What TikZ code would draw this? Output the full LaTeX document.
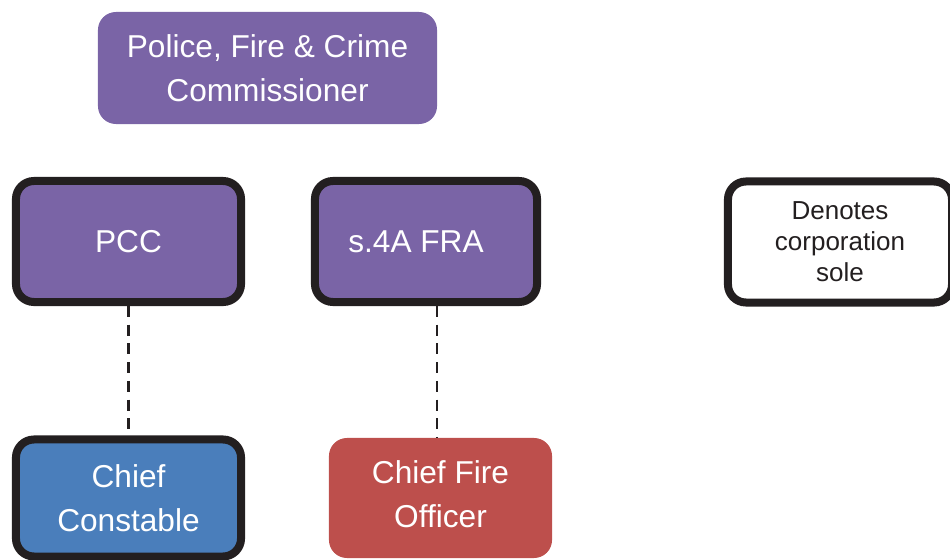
\documentclass[tikz,border=0pt]{standalone}
\usepackage{fontspec}
\setmainfont{Liberation Sans}

\definecolor{pfccpurple}{HTML}{7A64A6}
\definecolor{policeblue}{HTML}{4A7EBB}
\definecolor{firered}{HTML}{BD4F4C}
\definecolor{edgeblack}{HTML}{231F20}

\begin{document}
\begin{tikzpicture}[x=0.025cm,y=-0.025cm,
    box/.style={rounded corners=0.45cm,text=white,align=center,
      font=\fontsize{22.5}{31.3}\selectfont},
    sole/.style={box,draw=edgeblack,line width=5.7pt,
      minimum width=5.625cm,minimum height=3.025cm},
    link/.style={draw=edgeblack,line width=2.1pt,dash pattern=on 7.8pt off 5.5pt}]
        \useasboundingbox (0,0) rectangle (950,560);

        \node [box,fill=pfccpurple,minimum width=8.475cm,minimum height=2.8cm] (pfcc) at (267.5,68) {Police, Fire \& Crime\\Commissioner};

        \node [sole,fill=pfccpurple] (pcc) at (128.5,241.5) {PCC};
        \node [sole,fill=pfccpurple,minimum width=5.55cm] (fra) at (426,241.5) {s.4A FRA\hspace*{0.5cm}};

        \node [sole,fill=white,text=edgeblack,minimum width=5.6cm,
          font=\fontsize{18.5}{22}\selectfont] (key) at (840,242) {Denotes\\corporation\\sole};

        \node [sole,fill=policeblue,minimum height=2.925cm] (cc) at (128.5,498) {Chief\\Constable};
        \node [box,fill=firered,minimum width=5.575cm,minimum height=3cm,text depth=6pt] (cfo) at (440.5,498) {Chief Fire\\Officer};

        \draw [link] (pcc) -- (cc);
        \draw [link] ([xshift=0.275cm]fra.south) -- ([xshift=0.275cm]fra.south |- cfo.north);
      \end{tikzpicture}
\end{document}
